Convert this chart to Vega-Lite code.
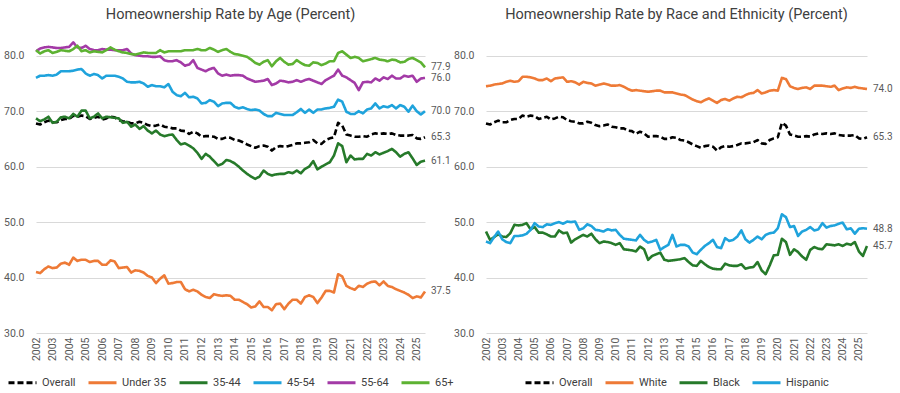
{
 "$schema": "https://vega.github.io/schema/vega-lite/v6.json",
 "background": "white",
 "padding": {"left": 3, "top": 6, "right": 0, "bottom": 0},
 "spacing": 61,
 "bounds": "flush",
 "datasets": {
  "q": [
{"t":2002,"Overall":67.8,"Under 35":41.0,"35-44":68.7,"45-54":76.0,"55-64":80.8,"65+":81.0,"White":74.5,"Black":48.3,"Hispanic":46.5},
{"t":2002.25,"Overall":67.6,"Under 35":40.8,"35-44":68.2,"45-54":76.4,"55-64":81.3,"65+":80.4,"White":74.6,"Black":46.8,"Hispanic":46.2},
{"t":2002.5,"Overall":68.0,"Under 35":41.5,"35-44":68.5,"45-54":76.4,"55-64":81.5,"65+":80.8,"White":74.8,"Black":47.3,"Hispanic":47.3},
{"t":2002.75,"Overall":68.3,"Under 35":42.0,"35-44":69.0,"45-54":76.5,"55-64":81.6,"65+":81.0,"White":74.9,"Black":47.8,"Hispanic":48.3},
{"t":2003,"Overall":68.0,"Under 35":41.7,"35-44":67.9,"45-54":76.4,"55-64":81.5,"65+":80.5,"White":75.0,"Black":47.4,"Hispanic":46.9},
{"t":2003.25,"Overall":68.0,"Under 35":41.8,"35-44":68.1,"45-54":76.6,"55-64":81.4,"65+":80.7,"White":75.3,"Black":47.3,"Hispanic":46.4},
{"t":2003.5,"Overall":68.4,"Under 35":42.5,"35-44":68.9,"45-54":77.2,"55-64":81.4,"65+":81.0,"White":75.5,"Black":48.0,"Hispanic":46.2},
{"t":2003.75,"Overall":68.6,"Under 35":42.7,"35-44":69.0,"45-54":77.2,"55-64":81.5,"65+":80.9,"White":75.3,"Black":49.5,"Hispanic":47.5},
{"t":2004,"Overall":68.6,"Under 35":42.3,"35-44":68.7,"45-54":77.2,"55-64":81.6,"65+":80.8,"White":75.4,"Black":49.4,"Hispanic":47.5},
{"t":2004.25,"Overall":69.2,"Under 35":43.6,"35-44":69.5,"45-54":77.3,"55-64":82.4,"65+":81.2,"White":76.2,"Black":49.5,"Hispanic":47.6},
{"t":2004.5,"Overall":69.0,"Under 35":43.0,"35-44":69.0,"45-54":77.5,"55-64":81.5,"65+":81.8,"White":76.2,"Black":49.8,"Hispanic":47.9},
{"t":2004.75,"Overall":69.2,"Under 35":43.2,"35-44":70.1,"45-54":77.6,"55-64":81.4,"65+":80.8,"White":76.1,"Black":48.7,"Hispanic":48.6},
{"t":2005,"Overall":69.1,"Under 35":43.2,"35-44":70.1,"45-54":76.8,"55-64":81.8,"65+":81.0,"White":75.9,"Black":49.1,"Hispanic":49.8},
{"t":2005.25,"Overall":68.6,"Under 35":42.8,"35-44":68.7,"45-54":76.4,"55-64":81.2,"65+":80.6,"White":75.6,"Black":48.1,"Hispanic":49.2},
{"t":2005.5,"Overall":68.8,"Under 35":43.0,"35-44":69.0,"45-54":76.7,"55-64":81.0,"65+":80.8,"White":75.6,"Black":48.1,"Hispanic":49.1},
{"t":2005.75,"Overall":69.0,"Under 35":43.0,"35-44":69.6,"45-54":76.5,"55-64":81.0,"65+":80.7,"White":75.9,"Black":47.8,"Hispanic":49.6},
{"t":2006,"Overall":68.5,"Under 35":42.3,"35-44":68.7,"45-54":75.9,"55-64":81.2,"65+":80.6,"White":75.4,"Black":47.4,"Hispanic":49.5},
{"t":2006.25,"Overall":68.7,"Under 35":42.3,"35-44":69.0,"45-54":76.4,"55-64":81.1,"65+":81.0,"White":75.9,"Black":47.4,"Hispanic":49.8},
{"t":2006.5,"Overall":69.0,"Under 35":43.1,"35-44":68.9,"45-54":76.4,"55-64":81.1,"65+":81.5,"White":76.0,"Black":48.5,"Hispanic":50.0},
{"t":2006.75,"Overall":68.9,"Under 35":42.9,"35-44":68.8,"45-54":76.4,"55-64":81.0,"65+":81.1,"White":76.1,"Black":48.0,"Hispanic":49.7},
{"t":2007,"Overall":68.4,"Under 35":41.7,"35-44":68.7,"45-54":76.2,"55-64":81.0,"65+":80.8,"White":75.3,"Black":48.1,"Hispanic":50.1},
{"t":2007.25,"Overall":68.2,"Under 35":41.8,"35-44":67.9,"45-54":75.9,"55-64":81.0,"65+":80.6,"White":75.4,"Black":46.3,"Hispanic":50.0},
{"t":2007.5,"Overall":68.1,"Under 35":41.9,"35-44":68.1,"45-54":75.3,"55-64":81.2,"65+":80.5,"White":75.2,"Black":46.9,"Hispanic":50.1},
{"t":2007.75,"Overall":67.8,"Under 35":40.9,"35-44":67.2,"45-54":75.2,"55-64":80.4,"65+":80.3,"White":74.8,"Black":47.3,"Hispanic":48.6},
{"t":2008,"Overall":67.8,"Under 35":41.3,"35-44":67.6,"45-54":75.2,"55-64":80.1,"65+":80.2,"White":75.3,"Black":47.7,"Hispanic":48.9},
{"t":2008.25,"Overall":68.1,"Under 35":41.2,"35-44":66.8,"45-54":75.3,"55-64":80.0,"65+":80.4,"White":75.1,"Black":47.4,"Hispanic":49.6},
{"t":2008.5,"Overall":67.9,"Under 35":40.9,"35-44":67.3,"45-54":75.0,"55-64":79.9,"65+":80.6,"White":75.0,"Black":47.9,"Hispanic":49.3},
{"t":2008.75,"Overall":67.5,"Under 35":40.3,"35-44":66.5,"45-54":74.4,"55-64":79.9,"65+":80.5,"White":74.6,"Black":46.9,"Hispanic":48.6},
{"t":2009,"Overall":67.3,"Under 35":40.0,"35-44":66.0,"45-54":74.7,"55-64":79.8,"65+":80.5,"White":74.8,"Black":46.2,"Hispanic":48.5},
{"t":2009.25,"Overall":67.4,"Under 35":39.0,"35-44":66.5,"45-54":74.5,"55-64":79.8,"65+":80.5,"White":75.0,"Black":46.5,"Hispanic":48.3},
{"t":2009.5,"Overall":67.6,"Under 35":39.8,"35-44":65.8,"45-54":74.5,"55-64":79.9,"65+":81.0,"White":74.8,"Black":46.4,"Hispanic":48.7},
{"t":2009.75,"Overall":67.2,"Under 35":40.4,"35-44":65.5,"45-54":74.3,"55-64":79.2,"65+":80.6,"White":74.6,"Black":46.2,"Hispanic":48.5},
{"t":2010,"Overall":67.1,"Under 35":38.9,"35-44":65.7,"45-54":74.9,"55-64":79.0,"65+":80.8,"White":74.6,"Black":45.9,"Hispanic":48.6},
{"t":2010.25,"Overall":66.9,"Under 35":39.0,"35-44":65.8,"45-54":73.5,"55-64":79.0,"65+":80.8,"White":74.7,"Black":46.2,"Hispanic":47.7},
{"t":2010.5,"Overall":66.9,"Under 35":39.2,"35-44":64.8,"45-54":72.9,"55-64":79.2,"65+":80.8,"White":74.4,"Black":45.1,"Hispanic":47.0},
{"t":2010.75,"Overall":66.5,"Under 35":39.2,"35-44":64.0,"45-54":72.7,"55-64":78.8,"65+":80.8,"White":74.0,"Black":45.0,"Hispanic":46.9},
{"t":2011,"Overall":66.4,"Under 35":37.9,"35-44":64.2,"45-54":73.3,"55-64":78.2,"65+":81.0,"White":73.7,"Black":44.9,"Hispanic":46.8},
{"t":2011.25,"Overall":65.9,"Under 35":37.5,"35-44":63.8,"45-54":72.5,"55-64":78.4,"65+":81.0,"White":73.8,"Black":44.7,"Hispanic":46.7},
{"t":2011.5,"Overall":66.3,"Under 35":37.8,"35-44":63.3,"45-54":72.6,"55-64":79.2,"65+":81.0,"White":73.7,"Black":45.6,"Hispanic":47.7},
{"t":2011.75,"Overall":66.0,"Under 35":37.5,"35-44":62.5,"45-54":72.3,"55-64":77.8,"65+":81.2,"White":73.6,"Black":45.1,"Hispanic":46.8},
{"t":2012,"Overall":65.4,"Under 35":36.9,"35-44":61.4,"45-54":71.4,"55-64":77.5,"65+":81.0,"White":73.5,"Black":43.2,"Hispanic":46.3},
{"t":2012.25,"Overall":65.5,"Under 35":36.5,"35-44":62.3,"45-54":71.5,"55-64":77.2,"65+":81.0,"White":73.6,"Black":43.9,"Hispanic":46.5},
{"t":2012.5,"Overall":65.5,"Under 35":36.3,"35-44":61.8,"45-54":72.0,"55-64":77.6,"65+":81.4,"White":73.7,"Black":44.2,"Hispanic":46.8},
{"t":2012.75,"Overall":65.4,"Under 35":37.0,"35-44":61.0,"45-54":71.7,"55-64":77.8,"65+":81.1,"White":73.7,"Black":44.5,"Hispanic":45.0},
{"t":2013,"Overall":65.0,"Under 35":36.8,"35-44":60.2,"45-54":70.9,"55-64":76.8,"65+":80.7,"White":73.4,"Black":43.2,"Hispanic":45.5},
{"t":2013.25,"Overall":65.0,"Under 35":36.7,"35-44":60.5,"45-54":71.4,"55-64":76.4,"65+":81.0,"White":73.4,"Black":43.0,"Hispanic":45.9},
{"t":2013.5,"Overall":65.3,"Under 35":36.8,"35-44":61.2,"45-54":71.5,"55-64":76.6,"65+":81.2,"White":73.4,"Black":43.1,"Hispanic":47.7},
{"t":2013.75,"Overall":65.2,"Under 35":36.7,"35-44":61.0,"45-54":71.5,"55-64":76.4,"65+":80.7,"White":73.2,"Black":43.2,"Hispanic":45.6},
{"t":2014,"Overall":64.8,"Under 35":36.0,"35-44":60.6,"45-54":70.8,"55-64":76.5,"65+":80.3,"White":73.0,"Black":43.3,"Hispanic":45.9},
{"t":2014.25,"Overall":64.7,"Under 35":36.0,"35-44":60.0,"45-54":70.5,"55-64":76.5,"65+":80.2,"White":72.9,"Black":43.5,"Hispanic":45.9},
{"t":2014.5,"Overall":64.4,"Under 35":35.6,"35-44":59.3,"45-54":70.7,"55-64":76.4,"65+":80.0,"White":72.5,"Black":42.8,"Hispanic":45.6},
{"t":2014.75,"Overall":64.0,"Under 35":35.2,"35-44":58.7,"45-54":70.4,"55-64":75.9,"65+":79.8,"White":72.1,"Black":42.2,"Hispanic":44.5},
{"t":2015,"Overall":63.7,"Under 35":34.6,"35-44":58.2,"45-54":70.2,"55-64":75.6,"65+":79.3,"White":71.8,"Black":42.1,"Hispanic":44.2},
{"t":2015.25,"Overall":63.4,"Under 35":34.8,"35-44":57.8,"45-54":70.3,"55-64":75.3,"65+":78.7,"White":71.6,"Black":43.0,"Hispanic":45.0},
{"t":2015.5,"Overall":63.7,"Under 35":35.7,"35-44":58.2,"45-54":70.1,"55-64":75.4,"65+":78.4,"White":72.0,"Black":42.4,"Hispanic":45.7},
{"t":2015.75,"Overall":63.8,"Under 35":34.7,"35-44":59.3,"45-54":69.5,"55-64":75.5,"65+":78.9,"White":72.3,"Black":41.9,"Hispanic":46.2},
{"t":2016,"Overall":63.6,"Under 35":34.7,"35-44":58.7,"45-54":69.1,"55-64":75.8,"65+":79.2,"White":71.9,"Black":41.6,"Hispanic":46.8},
{"t":2016.25,"Overall":62.9,"Under 35":34.1,"35-44":58.4,"45-54":69.1,"55-64":74.7,"65+":78.1,"White":71.5,"Black":41.5,"Hispanic":45.5},
{"t":2016.5,"Overall":63.5,"Under 35":35.2,"35-44":58.6,"45-54":69.7,"55-64":75.0,"65+":79.0,"White":72.0,"Black":41.5,"Hispanic":45.3},
{"t":2016.75,"Overall":63.7,"Under 35":35.3,"35-44":58.7,"45-54":69.5,"55-64":75.5,"65+":79.6,"White":72.2,"Black":42.5,"Hispanic":47.1},
{"t":2017,"Overall":63.6,"Under 35":34.3,"35-44":58.7,"45-54":69.3,"55-64":75.4,"65+":78.9,"White":71.9,"Black":42.2,"Hispanic":46.6},
{"t":2017.25,"Overall":63.7,"Under 35":35.3,"35-44":59.0,"45-54":69.3,"55-64":75.2,"65+":78.4,"White":72.3,"Black":42.1,"Hispanic":46.8},
{"t":2017.5,"Overall":63.9,"Under 35":36.0,"35-44":58.8,"45-54":69.3,"55-64":75.3,"65+":78.5,"White":72.6,"Black":42.1,"Hispanic":47.4},
{"t":2017.75,"Overall":64.2,"Under 35":36.0,"35-44":59.3,"45-54":69.8,"55-64":75.6,"65+":79.2,"White":72.5,"Black":42.4,"Hispanic":48.5},
{"t":2018,"Overall":64.2,"Under 35":35.3,"35-44":58.8,"45-54":70.4,"55-64":75.3,"65+":78.7,"White":72.9,"Black":41.6,"Hispanic":46.9},
{"t":2018.25,"Overall":64.3,"Under 35":36.5,"35-44":59.6,"45-54":69.7,"55-64":75.6,"65+":78.3,"White":73.2,"Black":41.8,"Hispanic":46.3},
{"t":2018.5,"Overall":64.4,"Under 35":36.8,"35-44":60.0,"45-54":70.3,"55-64":75.8,"65+":78.2,"White":73.3,"Black":41.9,"Hispanic":46.8},
{"t":2018.75,"Overall":64.8,"Under 35":36.5,"35-44":61.0,"45-54":69.7,"55-64":75.5,"65+":78.8,"White":73.8,"Black":42.8,"Hispanic":47.4},
{"t":2019,"Overall":64.2,"Under 35":35.4,"35-44":59.5,"45-54":70.3,"55-64":75.2,"65+":78.7,"White":73.2,"Black":41.3,"Hispanic":46.9},
{"t":2019.25,"Overall":64.1,"Under 35":36.4,"35-44":60.0,"45-54":70.3,"55-64":74.9,"65+":78.3,"White":73.4,"Black":40.6,"Hispanic":47.7},
{"t":2019.5,"Overall":64.8,"Under 35":37.6,"35-44":60.4,"45-54":70.5,"55-64":75.6,"65+":78.6,"White":73.7,"Black":42.2,"Hispanic":48.0},
{"t":2019.75,"Overall":65.1,"Under 35":37.6,"35-44":60.8,"45-54":70.6,"55-64":76.0,"65+":79.0,"White":73.8,"Black":44.0,"Hispanic":48.1},
{"t":2020,"Overall":65.3,"Under 35":37.3,"35-44":62.0,"45-54":70.8,"55-64":76.4,"65+":79.0,"White":73.7,"Black":44.1,"Hispanic":48.9},
{"t":2020.25,"Overall":67.9,"Under 35":40.6,"35-44":64.2,"45-54":72.1,"55-64":77.5,"65+":80.5,"White":76.0,"Black":47.0,"Hispanic":51.4},
{"t":2020.5,"Overall":67.4,"Under 35":40.2,"35-44":63.7,"45-54":71.7,"55-64":76.4,"65+":80.8,"White":75.8,"Black":46.4,"Hispanic":50.9},
{"t":2020.75,"Overall":65.8,"Under 35":38.5,"35-44":60.8,"45-54":69.9,"55-64":76.1,"65+":80.2,"White":74.5,"Black":44.1,"Hispanic":49.1},
{"t":2021,"Overall":65.6,"Under 35":38.1,"35-44":62.0,"45-54":69.5,"55-64":75.6,"65+":79.6,"White":74.2,"Black":45.1,"Hispanic":49.3},
{"t":2021.25,"Overall":65.4,"Under 35":37.8,"35-44":61.3,"45-54":69.5,"55-64":75.1,"65+":79.8,"White":74.0,"Black":44.6,"Hispanic":47.5},
{"t":2021.5,"Overall":65.4,"Under 35":38.5,"35-44":61.4,"45-54":70.0,"55-64":73.8,"65+":79.6,"White":74.2,"Black":43.8,"Hispanic":48.3},
{"t":2021.75,"Overall":65.5,"Under 35":38.3,"35-44":61.4,"45-54":69.6,"55-64":75.2,"65+":79.0,"White":74.3,"Black":43.2,"Hispanic":48.6},
{"t":2022,"Overall":65.4,"Under 35":38.9,"35-44":62.3,"45-54":70.3,"55-64":75.3,"65+":79.2,"White":74.0,"Black":45.0,"Hispanic":49.1},
{"t":2022.25,"Overall":65.8,"Under 35":39.2,"35-44":62.0,"45-54":70.5,"55-64":75.2,"65+":79.4,"White":74.6,"Black":45.5,"Hispanic":48.5},
{"t":2022.5,"Overall":66.0,"Under 35":39.3,"35-44":62.6,"45-54":71.4,"55-64":75.9,"65+":79.6,"White":74.6,"Black":45.2,"Hispanic":48.7},
{"t":2022.75,"Overall":65.9,"Under 35":38.6,"35-44":62.2,"45-54":70.5,"55-64":75.5,"65+":79.3,"White":74.6,"Black":45.1,"Hispanic":49.8},
{"t":2023,"Overall":66.0,"Under 35":39.3,"35-44":62.5,"45-54":70.9,"55-64":76.1,"65+":79.2,"White":74.5,"Black":46.0,"Hispanic":49.0},
{"t":2023.25,"Overall":65.9,"Under 35":38.5,"35-44":62.8,"45-54":70.7,"55-64":75.8,"65+":79.0,"White":74.4,"Black":45.9,"Hispanic":49.3},
{"t":2023.5,"Overall":66.0,"Under 35":38.3,"35-44":63.2,"45-54":71.1,"55-64":76.4,"65+":79.3,"White":74.6,"Black":45.8,"Hispanic":49.4},
{"t":2023.75,"Overall":65.7,"Under 35":37.9,"35-44":62.6,"45-54":70.5,"55-64":75.9,"65+":79.2,"White":73.8,"Black":46.0,"Hispanic":49.7},
{"t":2024,"Overall":65.6,"Under 35":37.6,"35-44":61.8,"45-54":71.1,"55-64":75.9,"65+":78.8,"White":74.1,"Black":45.7,"Hispanic":49.9},
{"t":2024.25,"Overall":65.6,"Under 35":37.3,"35-44":62.3,"45-54":70.8,"55-64":76.4,"65+":78.9,"White":74.3,"Black":46.1,"Hispanic":48.7},
{"t":2024.5,"Overall":65.6,"Under 35":36.9,"35-44":62.6,"45-54":69.9,"55-64":76.2,"65+":79.4,"White":74.2,"Black":45.9,"Hispanic":48.9},
{"t":2024.75,"Overall":65.7,"Under 35":36.3,"35-44":61.5,"45-54":71.0,"55-64":76.4,"65+":79.6,"White":74.4,"Black":46.4,"Hispanic":47.9},
{"t":2025,"Overall":65.1,"Under 35":36.6,"35-44":60.3,"45-54":70.0,"55-64":75.3,"65+":79.2,"White":74.2,"Black":44.7,"Hispanic":48.8},
{"t":2025.25,"Overall":65.0,"Under 35":36.4,"35-44":60.9,"45-54":69.4,"55-64":75.9,"65+":78.8,"White":74.1,"Black":43.9,"Hispanic":48.9},
{"t":2025.5,"Overall":65.3,"Under 35":37.5,"35-44":61.1,"45-54":70.0,"55-64":76.0,"65+":77.9,"White":74.0,"Black":45.7,"Hispanic":48.8}
  ]
 },
 "hconcat": [
  {
   "title": "Homeownership Rate by Age (Percent)",
   "width": 389,
   "height": 305,
   "data": {"name": "q"},
   "transform": [{"fold": ["Overall", "Under 35", "35-44", "45-54", "55-64", "65+"], "as": ["series", "value"]}],
   "encoding": {
    "x": {"field": "t", "type": "quantitative", "scale": {"domain": [2002, 2025.5], "nice": false, "zero": false},
          "axis": {"values": [2002,2003,2004,2005,2006,2007,2008,2009,2010,2011,2012,2013,2014,2015,2016,2017,2018,2019,2020,2021,2022,2023,2024,2025], "format": "d", "labelAngle": -90, "grid": false, "ticks": false, "domain": false, "title": null, "labelPadding": 4}},
    "y": {"field": "value", "type": "quantitative", "scale": {"domain": [30, 85], "nice": false, "zero": false},
          "axis": {"values": [30, 40, 50, 60, 70, 80], "format": ".1f", "title": null, "domain": false, "ticks": false, "labelPadding": 12}}
   },
   "layer": [
    {
     "mark": {"type": "line", "strokeWidth": 2.6, "strokeJoin": "round"},
     "encoding": {
      "color": {"field": "series", "type": "nominal", "sort": null,
                "scale": {"domain": ["Overall", "Under 35", "35-44", "45-54", "55-64", "65+"], "range": ["#000000", "#EE7A36", "#267A2A", "#1FA3DC", "#A33AA6", "#5DB232"]},
                "legend": {"title": null}},
      "strokeDash": {"field": "series", "type": "nominal", "sort": null,
                "scale": {"domain": ["Overall", "Under 35", "35-44", "45-54", "55-64", "65+"], "range": [[6, 3], [1, 0], [1, 0], [1, 0], [1, 0], [1, 0]]},
                "legend": {"title": null}},
      "order": {"field": "t"}
     }
    },
    {
     "transform": [{"filter": "datum.t == 2025.5"}],
     "mark": {"type": "text", "align": "left", "baseline": "middle", "dx": 6, "fontSize": 10, "color": "#595959"},
     "encoding": {"text": {"field": "value", "type": "quantitative", "format": ".1f"}}
    }
   ]
  },
  {
   "title": "Homeownership Rate by Race and Ethnicity (Percent)",
   "width": 381,
   "height": 305,
   "data": {"name": "q"},
   "transform": [{"fold": ["Overall", "White", "Black", "Hispanic"], "as": ["series", "value"]}],
   "encoding": {
    "x": {"field": "t", "type": "quantitative", "scale": {"domain": [2002, 2025.5], "nice": false, "zero": false},
          "axis": {"values": [2002,2003,2004,2005,2006,2007,2008,2009,2010,2011,2012,2013,2014,2015,2016,2017,2018,2019,2020,2021,2022,2023,2024,2025], "format": "d", "labelAngle": -90, "grid": false, "ticks": false, "domain": false, "title": null, "labelPadding": 4}},
    "y": {"field": "value", "type": "quantitative", "scale": {"domain": [30, 85], "nice": false, "zero": false},
          "axis": {"values": [30, 40, 50, 60, 70, 80], "format": ".1f", "title": null, "domain": false, "ticks": false, "labelPadding": 12}}
   },
   "layer": [
    {
     "mark": {"type": "line", "strokeWidth": 2.6, "strokeJoin": "round"},
     "encoding": {
      "color": {"field": "series", "type": "nominal", "sort": null,
                "scale": {"domain": ["Overall", "White", "Black", "Hispanic"], "range": ["#000000", "#EE7A36", "#267A2A", "#1FA3DC"]},
                "legend": {"title": null}},
      "strokeDash": {"field": "series", "type": "nominal", "sort": null,
                "scale": {"domain": ["Overall", "White", "Black", "Hispanic"], "range": [[6, 3], [1, 0], [1, 0], [1, 0]]},
                "legend": {"title": null}},
      "order": {"field": "t"}
     }
    },
    {
     "transform": [{"filter": "datum.t == 2025.5"}],
     "mark": {"type": "text", "align": "left", "baseline": "middle", "dx": 6, "fontSize": 10, "color": "#595959"},
     "encoding": {"text": {"field": "value", "type": "quantitative", "format": ".1f"}}
    }
   ]
  }
 ],
 "resolve": {"scale": {"color": "independent", "strokeDash": "independent", "x": "independent", "y": "independent"}},
 "config": {
  "font": "Roboto",
  "view": {"stroke": null},
  "title": {"fontSize": 14.5, "fontWeight": "normal", "color": "#404040", "anchor": "middle", "offset": 6, "font": "Roboto"},
  "axis": {"labelFont": "Roboto", "labelFontSize": 10.5, "labelColor": "#595959", "gridColor": "#D9D9D9", "gridWidth": 1},
  "text": {"font": "Roboto"},
  "legend": {"orient": "bottom", "direction": "horizontal", "symbolType": "stroke", "symbolSize": 784, "symbolStrokeWidth": 3, "labelFont": "Roboto", "labelFontSize": 11, "labelColor": "#404040", "columnPadding": 6, "labelOffset": 4, "offset": 6, "padding": 0, "layout": {"bottom": {"anchor": "middle"}}}
 }
}
